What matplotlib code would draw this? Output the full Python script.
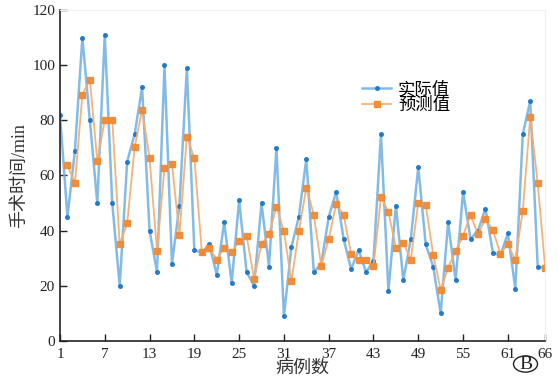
import numpy as np
import matplotlib.pyplot as plt
from matplotlib.patches import Circle

plt.rcParams['font.family'] = ['Liberation Serif', 'Noto Sans CJK SC']

# case index
cases = list(range(1, 67))

# actual surgery time (min)
actual = [82, 45, 69, 110, 80, 50, 111, 50, 20, 65,
          75, 92, 40, 25, 100, 28, 49, 99, 33, 32,
          35, 24, 43, 21, 51, 25, 20, 50, 27, 70,
          9, 34, 45, 66, 25, 28, 45, 54, 37, 26,
          33, 25, 29, 75, 18, 49, 22, 37, 63, 35,
          27, 10, 43, 22, 54, 37, 40, 48, 32, 31,
          39, 19, 75, 87, 27, 26.5]

# predicted surgery time (min), starts at case 2
pred_cases = list(range(2, 67))
predicted = [63.7, 57.2, 89.3, 94.8, 65.2, 80.3, 80.3, 35.1, 42.6,
             70.2, 83.9, 66.3, 32.6, 62.8, 64.2, 38.6, 74.1, 66.3, 32.4,
             33.8, 29.5, 33.8, 32.1, 36.2, 38.1, 22.5, 35.1, 38.7, 48.6,
             39.7, 21.6, 39.7, 55.6, 45.7, 27.2, 37.0, 49.7, 45.6, 31.7,
             29.5, 29.2, 27.1, 52.2, 46.7, 33.8, 35.6, 29.5, 50.2, 49.2,
             31.2, 18.6, 26.6, 32.6, 38.2, 45.7, 38.7, 44.3, 40.2, 31.6,
             35.1, 29.3, 47.2, 81.3, 57.2, 26.5]

xticks = [1, 7, 13, 19, 25, 31, 37, 43, 49, 55, 61, 66]

fig = plt.figure(figsize=(5.58, 3.79), dpi=100)
ax = fig.add_axes([0.1075, 0.1003, 0.8695, 0.8733])

ax.plot(cases, actual, color='#77b4e3', lw=1.8, alpha=0.9,
        marker='o', ms=2.6, mfc='#1b76c4', mec='#1b76c4', label='实际值')
ax.plot(pred_cases, predicted, color='#f7ad72', lw=1.3, alpha=0.95,
        marker='s', ms=4.0, mfc='#f28a33', mec='#f28a33', label='预测值')

ax.set_xlim(1, 66)
ax.set_ylim(0, 120)
ax.set_xticks(xticks)
ax.set_yticks(range(0, 121, 20))
ax.tick_params(direction='in', length=5, width=1, labelsize=11, colors='#222222')
ax.tick_params(axis='x', pad=5)

for s in ['left', 'bottom']:
    ax.spines[s].set_linewidth(1.2)
    ax.spines[s].set_color('#222222')
for s in ['top', 'right']:
    ax.spines[s].set_color('#f0f0f0')
    ax.spines[s].set_linewidth(0.8)

ax.set_xlabel('病例数', fontsize=13, labelpad=-1, color='#333333')
ax.set_ylabel('手术时间/min', fontsize=13, labelpad=3, color='#333333')

ax.legend(loc='upper left', bbox_to_anchor=(0.622, 0.785), frameon=False,
          fontsize=12.5, handlelength=1.7, handletextpad=0.4,
          labelspacing=0.02, borderaxespad=0, borderpad=0)

# circled panel label
fig.patches.append(Circle((525.5 / 558, 1 - 364 / 379), 12 / 558,
                          transform=fig.transFigure, fill=False,
                          lw=1.0, ec='#222222'))
fig.text(525.5 / 558, 1 - 364.5 / 379, 'B', ha='center', va='center',
         fontsize=14, color='#222222')

fig.savefig('out.png', dpi=100)
